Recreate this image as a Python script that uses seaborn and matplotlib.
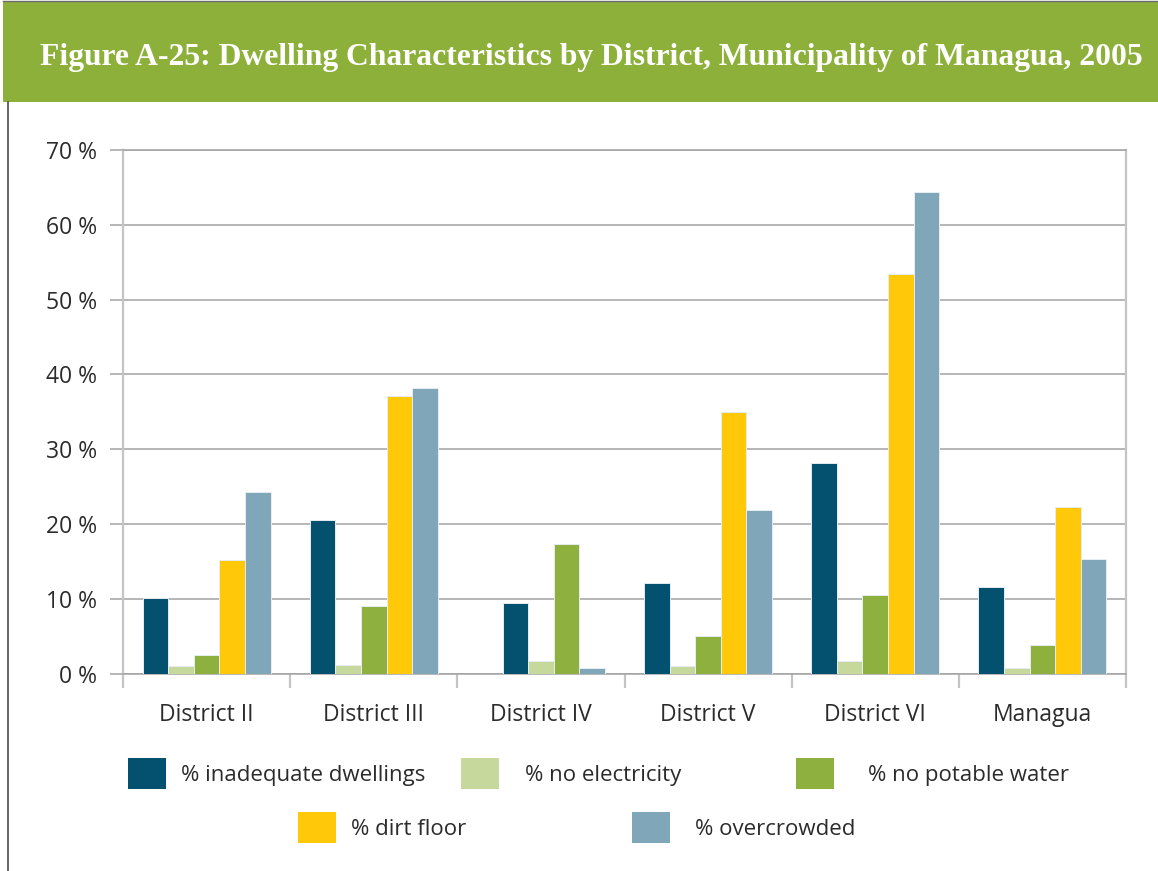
import matplotlib
matplotlib.use("Agg")
import matplotlib.pyplot as plt
from matplotlib.patches import Patch, Rectangle
from matplotlib.lines import Line2D
import seaborn as sns
import pandas as pd

# ---- data -------------------------------------------------------------
districts = ["District II", "District III", "District IV", "District V",
             "District VI", "Managua"]
series = ["% inadequate dwellings", "% no electricity", "% no potable water",
          "% dirt floor", "% overcrowded"]

inadequate = [10.1, 20.5, 9.4, 12.1, 28.2, 11.5]
no_electricity = [1.0, 1.2, 1.7, 1.0, 1.7, 0.7]
no_water = [2.45, 9.0, 17.3, 5.0, 10.5, 3.8]
dirt_floor = [15.2, 37.1, 0.0, 34.9, 53.4, 22.3]
overcrowded = [24.3, 38.2, 0.8, 21.9, 64.4, 15.3]

y_ticks = [0, 10, 20, 30, 40, 50, 60, 70]
y_tick_labels = [f"{v} %" for v in y_ticks]

title = "Figure A-25: Dwelling Characteristics by District, Municipality of Managua, 2005"

colors = ["#03506F", "#C6D89C", "#8DB03E", "#FFC90A", "#80A7B9"]
palette = dict(zip(series, colors))

values = [inadequate, no_electricity, no_water, dirt_floor, overcrowded]
df = pd.DataFrame(
    [(d, s, v[i]) for s, v in zip(series, values) for i, d in enumerate(districts)],
    columns=["district", "series", "value"],
)

# ---- figure -----------------------------------------------------------
W, H = 1158, 871
fig = plt.figure(figsize=(W / 100, H / 100), dpi=100)
fig.patch.set_facecolor("white")

# header band
band_bottom = 102
fig.patches.append(Rectangle((3 / W, 1 - band_bottom / H), 1 - 3 / W, (band_bottom - 1) / H,
                             transform=fig.transFigure, facecolor="#8DB03A",
                             edgecolor="none", zorder=0))
fig.lines.append(Line2D([3 / W, 1], [1 - 0.8 / H, 1 - 0.8 / H], transform=fig.transFigure,
                        color="#6b6b6b", lw=1.0))
fig.lines.append(Line2D([8 / W, 8 / W], [0, 1 - band_bottom / H], transform=fig.transFigure,
                        color="#4a4a4a", lw=1.2))
fig.text(40 / W, 1 - 57 / H, title, color="white", fontsize=22.8, weight="bold",
         family="Liberation Serif", ha="left", va="center")

ax_left, ax_right, ax_top, ax_bottom = 123, 1126, 150, 673.5
ax = fig.add_axes([ax_left / W, 1 - ax_bottom / H,
                   (ax_right - ax_left) / W, (ax_bottom - ax_top) / H])

bar_kw = dict(x="district", y="value", hue="series", order=districts,
              width=0.765, gap=0, saturation=1, edgecolor="#e6edf1",
              linewidth=0.7, legend=False, ax=ax, zorder=3, errorbar=None)

# all districts except District IV use the regular slot order
sns.barplot(data=df[df["district"] != "District IV"], hue_order=series,
            palette=palette, **bar_kw)

# District IV has no dirt-floor bar; its four bars sit one slot to the right
iv_order = ["_slot"] + [s for s in series if s != "% dirt floor"]
iv_palette = dict(palette, _slot="white")
df_iv = df[(df["district"] == "District IV") & (df["series"] != "% dirt floor")]
sns.barplot(data=df_iv, hue_order=iv_order, palette=iv_palette, **bar_kw)

# ---- axes styling -----------------------------------------------------
grid_c = "#a3a3a3"
spine_c = "#c4c4c4"
ax.set_xlim(-0.5, len(districts) - 0.5)
ax.set_ylim(0, 70)
ax.set_yticks(y_ticks)
ax.set_yticklabels(y_tick_labels)
ax.yaxis.grid(True, color=grid_c, lw=1.1, zorder=0)
ax.xaxis.grid(False)
ax.set_axisbelow(True)
ax.set_xlabel("")
ax.set_ylabel("")
ax.set_facecolor("white")

for side in ["left", "right"]:
    ax.spines[side].set_color(spine_c)
    ax.spines[side].set_linewidth(1.6)
for side in ["top", "bottom"]:
    ax.spines[side].set_color(grid_c)
    ax.spines[side].set_linewidth(1.1)

tick_fs = 16.5
ax.tick_params(axis="y", direction="out", length=9.5, width=1.1, color=grid_c,
               pad=9, labelsize=tick_fs, labelcolor="#2b2b2b")
ax.set_xticks(range(len(districts)))
ax.set_xticklabels(districts)
ax.tick_params(axis="x", which="major", length=0, pad=21, labelsize=tick_fs,
               labelcolor="#2b2b2b")
ax.set_xticks([i - 0.5 for i in range(len(districts) + 1)], minor=True)
ax.tick_params(axis="x", which="minor", direction="out", length=10, width=1.6,
               color=spine_c)
for lab in ax.get_xticklabels() + ax.get_yticklabels():
    lab.set_family("Open Sans")

# ---- legend -----------------------------------------------------------
# one single-entry legend per series: (patch left x, row centre y, text gap) in px
fs = 16
px_per_fs = fs * 100 / 72
legend_pos = [(128, 773.5, 15), (461, 773.5, 26), (796, 773.5, 34),
              (298, 827.5, 15), (632, 827.5, 25)]
for s, (lx, ly, gap) in zip(series, legend_pos):
    leg = fig.legend(handles=[Patch(facecolor=palette[s], edgecolor="none", label=s)],
                     loc="center left", bbox_to_anchor=(lx / W, 1 - ly / H),
                     bbox_transform=fig.transFigure, frameon=False,
                     borderpad=0, borderaxespad=0,
                     handlelength=38 / px_per_fs, handleheight=38 / px_per_fs,
                     handletextpad=gap / px_per_fs,
                     prop={"family": "Open Sans", "size": fs})
    for t in leg.get_texts():
        t.set_color("#2b2b2b")

fig.savefig("out.png", dpi=100)
